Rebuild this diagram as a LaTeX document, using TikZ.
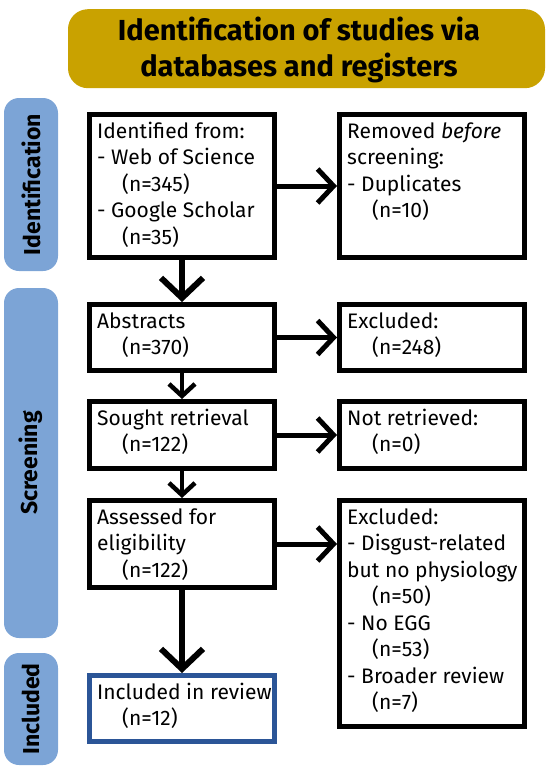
\documentclass[tikz,border=0pt]{standalone}
\usepackage{fontspec}
\setmainfont{Fira Sans}
\usetikzlibrary{positioning,arrows.meta}
\definecolor{titlegold}{HTML}{C9A200}
\definecolor{stageblue}{HTML}{7CA4D6}
\definecolor{inclblue}{HTML}{2B5597}
\newcommand{\ncount}[1]{\hspace*{25pt}(n=#1)}

\begin{document}
\begin{tikzpicture}[
  x=1pt, y=-1pt,
  node distance=42pt and 60pt,
  box/.style={draw,line width=5pt,minimum width=185pt,inner sep=0pt},
  txt/.style={anchor=north west,inner sep=0pt,align=left,font=\fontsize{21}{26.5}\selectfont},
  stage/.style={fill=stageblue,rounded corners=15pt,minimum height=54pt,inner sep=0pt,rotate=90,font=\fontsize{23}{27}\selectfont\bfseries},
  arr/.style={line width=5pt,-{Straight Barb[length=16pt,width=34pt]}},
  smallarr/.style={line width=4.5pt,-{Straight Barb[length=12pt,width=26pt]}},
  bigarr/.style={line width=6pt,-{Straight Barb[length=20pt,width=42pt]}}
]
\useasboundingbox (0,0) rectangle (549,776);

% title
\node[fill=titlegold,rounded corners=20pt,minimum width=477pt,minimum height=79pt] (title) at (306.5,48.7) {};
\node[align=center,inner sep=0pt,font=\fontsize{29}{36}\selectfont\bfseries] (titletxt) at (299,50.3)
  {Identification of studies via\\databases and registers};

% stages
\node[stage,minimum width=173pt] (sident) at (31,184.5) {Identification};
\node[stage,minimum width=350pt] (sscreen) at (31,463) {Screening};
\node[stage,minimum width=112pt] (sincl) at (31,709) {Included};

% boxes
\node[box,minimum height=143pt] (ident) at (182,186) {};
\node[box,minimum height=143pt,right=of ident] (removed) {};
\node[box,minimum height=66pt,below=of ident] (abstr) {};
\node[box,minimum height=66pt,right=of abstr] (excla) {};
\node[box,minimum height=67pt,below=26pt of abstr] (sought) {};
\node[box,minimum height=67pt,right=of sought] (notret) {};
\node[box,minimum height=87pt,below=27pt of sought] (assess) {};
\node[box,minimum height=226pt,right=60pt of assess.north east,anchor=north west] (exclb) {};
\node[box,draw=inclblue,minimum height=66pt,below=83pt of assess] (incl) {};

% texts
\node[txt] (identtxt) at ([shift={(10pt,-7.5pt)}]ident.north west)
  {\strut Identified from:\\- Web of Science\\\ncount{345}\\- Google Scholar\\\ncount{35}};
\node[txt] (removedtxt) at ([shift={(10pt,-7.5pt)}]removed.north west)
  {\strut Removed \emph{before}\\screening:\\- Duplicates\\\ncount{10}};
\node[txt] (abstrtxt) at ([shift={(10pt,-7.5pt)}]abstr.north west)
  {\strut Abstracts\\\ncount{370}};
\node[txt] (exclatxt) at ([shift={(10pt,-7.5pt)}]excla.north west)
  {\strut Excluded:\\\ncount{248}};
\node[txt] (soughttxt) at ([shift={(10pt,-7.5pt)}]sought.north west)
  {\strut Sought retrieval\\\ncount{122}};
\node[txt] (notrettxt) at ([shift={(10pt,-7.5pt)}]notret.north west)
  {\strut Not retrieved:\\\ncount{0}};
\node[txt] (assesstxt) at ([shift={(10pt,-7.5pt)}]assess.north west)
  {\strut Assessed for\\eligibility\\\ncount{122}};
\node[txt] (exclbtxt) at ([shift={(10pt,-7.5pt)}]exclb.north west)
  {\strut Excluded:\\- Disgust-related\\but no physiology\\\ncount{50}\\- No EGG\\\ncount{53}\\- Broader review\\\ncount{7}};
\node[txt] (incltxt) at ([shift={(10pt,-7.5pt)}]incl.north west)
  {\strut Included in review\\\ncount{12}};

% arrows
\path (ident) edge[arr] (removed);
\path (abstr) edge[arr] (excla);
\path (sought) edge[arr] (notret);
\path (assess.east) edge[arr] (assess.east -| exclb.west);
\path (ident) edge[bigarr] (abstr);
\path (abstr) edge[smallarr] (sought);
\path (sought) edge[smallarr] (assess);
\path (assess) edge[bigarr] (incl);
\end{tikzpicture}
\end{document}
